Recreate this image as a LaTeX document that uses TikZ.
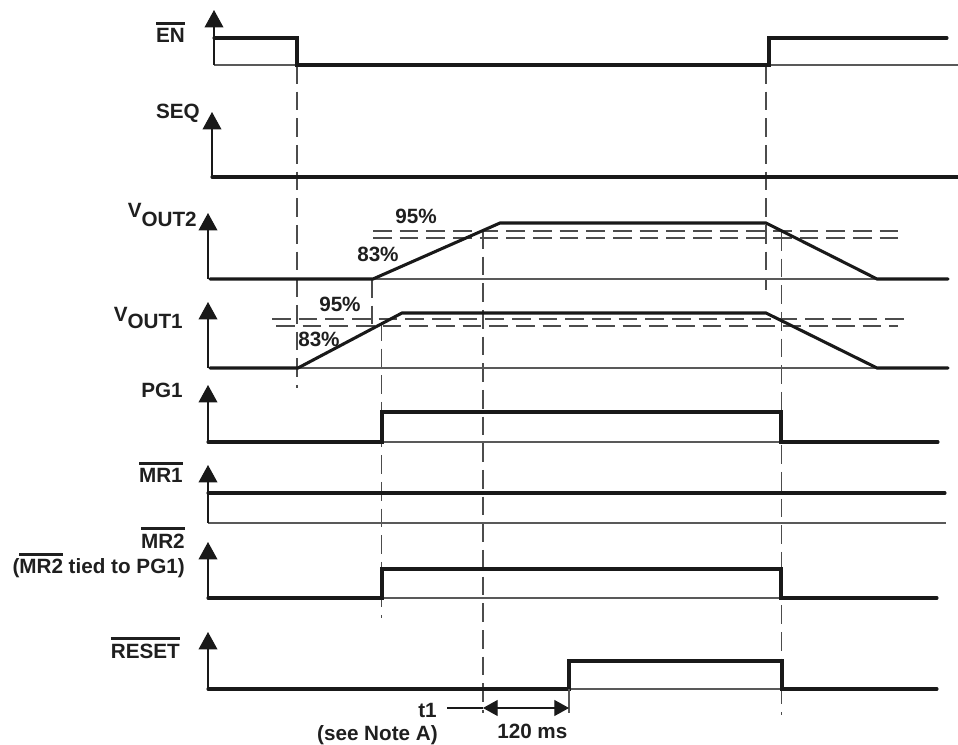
\documentclass[tikz,border=0pt]{standalone}
\usepackage{fontspec}
\setmainfont{Liberation Sans}
\usetikzlibrary{arrows.meta}
\newcommand{\ovl}[1]{\leavevmode\setbox0\hbox{#1}\rlap{\rule[\dimexpr\ht0+3pt\relax]{\wd0}{1.8pt}}\box0\relax}
\begin{document}
\begin{tikzpicture}[x=0.75pt,y=-0.75pt,
  sig/.style={line width=2.3pt, draw=black!90, line cap=round, line join=miter},
  base/.style={line width=0.8pt, draw=black!65},
  dsh/.style={line width=0.8pt, draw=black!70, dash pattern=on 14pt off 6pt},
  axis/.style={line width=1pt, draw=black!90, -{Triangle[width=14pt,length=13pt]}},
  dimarr/.style={line width=0.8pt, draw=black!90, {Triangle[width=12pt,length=11pt]}-{Triangle[width=12pt,length=11pt]}},
  lbl/.style={font=\fontsize{15.5}{18}\selectfont\bfseries, text=black!88, inner sep=0pt}]
\useasboundingbox (0,0) rectangle (958,745);

% vertical dashed timing markers
\draw[dsh] (297,65) -- (297,388);
\draw[dsh] (372,279) -- (372,327);
\draw[dsh] (381.5,322) -- (381.5,618);
\draw[dsh] (483,230) -- (483,713);
\draw[dsh] (766,65) -- (766,290);
\draw[dsh] (781.5,232) -- (781.5,715);

% threshold dashed lines
\draw[dsh] (373,231) -- (903,231);
\draw[dsh] (373,238) -- (903,238);
\draw[dsh] (272,319) -- (905,319);
\draw[dsh] (276,326) -- (898,326);

% thin baselines
\draw[base] (214,65) -- (958,65);
\draw[base] (373,279) -- (877,279);
\draw[base] (298,368) -- (877,368);
\draw[base] (382,442) -- (781,442);
\draw[base] (208,523) -- (946,523);
\draw[base] (382,598) -- (781,598);
\draw[base] (569,689) -- (782,689);

% axes
\draw[axis] (214,65) -- (214,10);
\draw[axis] (212,177) -- (212,112);
\draw[axis] (208,279) -- (208,213);
\draw[axis] (208,368) -- (208,302);
\draw[axis] (208,442) -- (208,385);
\draw[axis] (208,523) -- (208,465);
\draw[axis] (208,598) -- (208,542);
\draw[axis] (208,689) -- (208,632);

% signals
\draw[sig] (214,38) -- (297,38) -- (297,65) -- (769,65) -- (769,38) -- (947,38);
\draw[sig] (212,177) -- (958,177);
\draw[sig] (210,279) -- (373,279) -- (500,223) -- (766,223) -- (877,279) -- (948,279);
\draw[sig] (210,368) -- (298,368) -- (402,313) -- (766,313) -- (877,368) -- (948,368);
\draw[sig] (208,442) -- (382,442) -- (382,412) -- (781,412) -- (781,442) -- (938,442);
\draw[sig] (208,493) -- (945,493);
\draw[sig] (208,598) -- (382,598) -- (382,569) -- (781,569) -- (781,598) -- (937,598);
\draw[sig] (208,689) -- (569,689) -- (569,661) -- (782,661) -- (782,689) -- (937,689);

% labels
\node[lbl, anchor=base east] (en) at (185,43) {\ovl{EN}};
\node[lbl, anchor=base east] (seq) at (200,119) {SEQ};
\node[lbl, anchor=base east] (vout2) at (197,218) {V\raisebox{-6.75pt}{OUT2}};
\node[lbl, anchor=base east] (vout1) at (183,322) {V\raisebox{-5pt}{OUT1}};
\node[lbl, anchor=base east] (pg1) at (183,398) {PG1};
\node[lbl, anchor=base east] (mr1) at (183,483) {\ovl{MR1}};
\node[lbl, anchor=base east] (mr2) at (185,548) {\ovl{MR2}};
\node[lbl, anchor=base east] (tied) at (185,574) {(\ovl{MR2} tied to PG1)};
\node[lbl, anchor=base east] (reset) at (180,658) {\ovl{RESET}};
\node[lbl, anchor=base west] (p95b) at (395,224) {95\%};
\node[lbl, anchor=base west] (p83b) at (357,262) {83\%};
\node[lbl, anchor=base west] (p95a) at (319,312) {95\%};
\node[lbl, anchor=base west] (p83a) at (298,347) {83\%};
\node[lbl, anchor=base east] (t1) at (437,717) {t1};
\node[lbl, anchor=base east] (note) at (438,740) {(see Note A)};
\node[lbl, anchor=base west] (ms) at (497,738) {120 ms};

% t1 dimension
\coordinate (t1s) at (447,708);
\coordinate (t1a) at (483,708);
\coordinate (t1b) at (569,708);
\coordinate (rsx) at (569,689);
\coordinate (rsy) at (569,713);
\draw[base] (rsx) -- (rsy);
\draw[line width=0.8pt, draw=black!90] (t1s) -- (t1a);
\draw[dimarr] (t1a) -- (t1b);
\end{tikzpicture}
\end{document}
